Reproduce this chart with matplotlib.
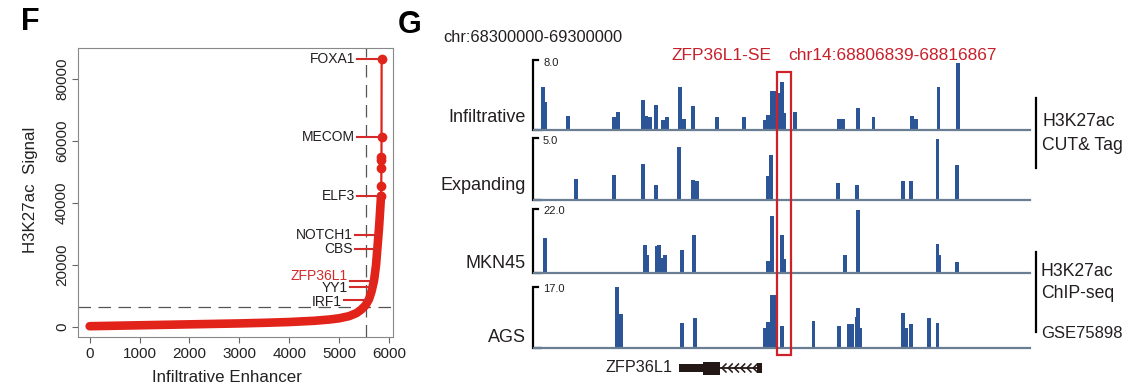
import numpy as np
import matplotlib
matplotlib.use("Agg")
import matplotlib.pyplot as plt
from matplotlib.patches import Rectangle

plt.rcParams['font.family'] = ['Liberation Sans', 'DejaVu Sans']

# ---------------- data: panel F (ranked enhancer signal) ----------------
curve_rank = [0, 500, 1000, 1500, 2000, 2500, 3000, 3500, 4000, 4500, 4800, 5000,
              5200, 5350, 5450, 5530, 5600, 5650, 5700, 5740, 5770, 5800, 5820, 5840]
curve_signal = [250, 400, 550, 700, 850, 1000, 1150, 1350, 1600, 2000, 2400, 2800,
                3500, 4500, 5700, 7000, 9000, 11500, 15000, 20000, 26000, 32000, 37000, 42300]
top_rank = [5840, 5845, 5847, 5848, 5849, 5850, 5852]
top_signal = [42300, 45500, 51300, 53900, 54800, 61300, 86450]
label_genes = ['FOXA1', 'MECOM', 'ELF3', 'NOTCH1', 'CBS', 'ZFP36L1', 'YY1', 'IRF1']
label_signal = [86450, 61300, 42300, 29700, 25200, 14900, 13000, 8700]
cutoff_rank = 5540
cutoff_signal = 6450
x_ticks = [0, 1000, 2000, 3000, 4000, 5000, 6000]
y_ticks = [0, 20000, 40000, 60000, 80000]

# ---------------- data: panel G (tracks; position in kb from 68,300,000) ----------------
track_names = ['Infiltrative', 'Expanding', 'MKN45', 'AGS']
track_max = [8.0, 5.0, 22.0, 17.0]
infil_pos = [18, 22, 69, 161, 169, 220, 226, 234, 246, 260, 268, 294, 302, 321, 369, 423,
             466, 472, 480, 486, 492, 500, 504, 526, 615, 623, 653, 685, 762, 770, 816, 855]
infil_val = [4.95, 3.2, 1.6, 1.5, 2.1, 3.4, 1.6, 1.5, 2.9, 1.15, 1.5, 4.95, 1.3, 2.7, 1.5, 1.5,
             1.15, 1.7, 4.4, 4.4, 4.2, 5.5, 1.9, 2.0, 1.2, 1.2, 2.55, 1.5, 1.55, 1.3, 4.95, 7.6]
expand_pos = [85, 161, 220, 246, 292, 321, 329, 472, 478, 613, 651, 744, 760, 814, 853]
expand_val = [1.67, 2.0, 2.9, 1.2, 4.3, 1.6, 1.55, 1.9, 3.6, 1.35, 1.2, 1.56, 1.56, 4.9, 2.8]
mkn45_pos = [22, 224, 228, 248, 252, 258, 264, 298, 323, 472, 480, 500, 504, 627, 653, 814, 818, 853]
mkn45_val = [12.0, 9.7, 6.3, 9.2, 9.7, 5.2, 6.3, 7.8, 13.2, 4.2, 19.7, 13.2, 4.9, 6.3, 21.5, 10.0, 6.3, 3.8]
ags_pos = [167, 175, 298, 325, 466, 472, 480, 484, 500, 564, 615, 635, 641, 651, 653, 657,
           744, 750, 760, 796, 814]
ags_val = [17.0, 9.6, 6.9, 8.3, 5.7, 7.3, 14.9, 14.8, 6.2, 7.5, 6.0, 6.7, 6.7, 8.7, 11.2, 5.5,
           9.7, 5.7, 6.6, 8.5, 6.9]
track_pos = [infil_pos, expand_pos, mkn45_pos, ags_pos]
track_val = [infil_val, expand_val, mkn45_val, ags_val]
se_region = (490, 519)          # highlighted super-enhancer (kb)
gene_thin = (292, 341)          # ZFP36L1 exon blocks (kb)
gene_thick = (341, 375)
gene_intron = (375, 450)
gene_end = (450, 460)

# ---------------- figure ----------------
W, H = 1135, 390
fig = plt.figure(figsize=(W / 100, H / 100), dpi=100)


def axpx(x0, y0, x1, y1):
    a = fig.add_axes([x0 / W, 1 - y1 / H, (x1 - x0) / W, (y1 - y0) / H])
    a.patch.set_alpha(0)
    return a


RED = '#E2231A'
LRED = '#D42A2A'
TXT = '#231F20'

# ---- pixel overlay for annotation text ----
pax = axpx(0, 0, W, H)
pax.set_xlim(0, W)
pax.set_ylim(H, 0)
pax.axis('off')

# ---------------- Panel F ----------------
ax = axpx(78, 48, 393, 337)
ax.set_xlim(-234, 6080)
ax.set_ylim(-3230, 90000)
ax.plot(curve_rank, curve_signal, color=RED, lw=6.2, solid_capstyle='round', zorder=3)
ax.plot(top_rank, top_signal, '-o', color=RED, lw=1.6, ms=6, zorder=3)
ax.axvline(cutoff_rank, color='#555555', lw=0.9, dashes=(10, 6), zorder=2)
ax.axhline(cutoff_signal, color='#555555', lw=0.9, dashes=(10, 6), zorder=2)

all_rank = np.array(curve_rank + top_rank[1:])
all_sig = np.array(curve_signal + top_signal[1:])
text_right = [5320, 5320, 5320, 5280, 5280, 5180, 5180, 5050]
text_shift = [0, 0, 0, 0, 0, 1700, -350, -700]
for g, v, tx, dy in zip(label_genes, label_signal, text_right, text_shift):
    xe = np.interp(v, all_sig, all_rank)
    ax.plot([tx + 40, xe], [v, v], color=LRED, lw=1.5, zorder=4)
    ax.text(tx, v + dy, g, ha='right', va='center', fontsize=10,
            color=(LRED if g == 'ZFP36L1' else TXT), zorder=5)

ax.set_xticks(x_ticks)
ax.set_yticks(y_ticks)
ax.tick_params(direction='out', length=4, width=0.8, colors='#666666',
               labelcolor='#222222', labelsize=11, pad=3)
ax.tick_params(axis='y', labelrotation=90, pad=2.5)
for lab in ax.get_yticklabels():
    lab.set_va('center')
for s in ax.spines.values():
    s.set_color('#888888')
    s.set_linewidth(0.8)

pax.text(30, 190, 'H3K27ac  Signal', rotation=90, ha='center', va='center',
         fontsize=12.2, color='#222222')
pax.text(227, 378, 'Infiltrative Enhancer', ha='center', va='center',
         fontsize=12.2, color='#222222')
pax.text(30, 22, 'F', ha='center', va='center', fontsize=22, fontweight='bold', color='black')

# ---------------- Panel G ----------------
pax.text(410, 25, 'G', ha='center', va='center', fontsize=22, fontweight='bold', color='black')
pax.text(443, 37, 'chr:68300000-69300000', ha='left', va='center', fontsize=11.8, color=TXT)
pax.text(672, 55, 'ZFP36L1-SE', ha='left', va='center', fontsize=12.5, color='#C8202B')
pax.text(788, 55, 'chr14:68806839-68816867', ha='left', va='center', fontsize=12.5, color='#C8202B')

BLUE = '#2C5597'
BASE = '#6A7E93'
tops = [60, 138, 209, 287]
bases = [130, 200, 273, 348]
label_y = [118, 185, 263, 337]
for name, mx, pos, val, t, b, ly in zip(track_names, track_max, track_pos, track_val,
                                        tops, bases, label_y):
    tax = axpx(534, t, 1030, b)
    tax.set_xlim(0, 1000)
    tax.set_ylim(0, mx)
    tax.bar(pos, val, width=7, color=BLUE, align='center', linewidth=0)
    tax.axhline(0, color=BASE, lw=1.6, clip_on=False)
    tax.axis('off')
    # scale bracket
    pax.plot([538, 533, 533, 541], [t, t, b, b], color='black', lw=1.6, solid_joinstyle='miter')
    pax.text(543, t + 2.5, f'{mx:.1f}', ha='left', va='center', fontsize=8, color=TXT)
    pax.text(526, ly, name, ha='right', va='center', fontsize=13, color=TXT)

# right side annotations
pax.plot([1036, 1036], [98, 168], color='black', lw=1.6)
pax.text(1042, 122, 'H3K27ac', ha='left', va='center', fontsize=12.7, color=TXT)
pax.text(1042, 145, 'CUT& Tag', ha='left', va='center', fontsize=12.7, color=TXT)
pax.plot([1036, 1036], [252, 332], color='black', lw=1.6)
pax.text(1041, 271, 'H3K27ac', ha='left', va='center', fontsize=12.7, color=TXT)
pax.text(1041, 293, 'ChIP-seq', ha='left', va='center', fontsize=12.7, color=TXT)
pax.text(1041, 333, 'GSE75898', ha='left', va='center', fontsize=12, color=TXT)

# kb overlay for SE box and gene model
kax = axpx(534, 0, 1030, H)
kax.set_xlim(0, 1000)
kax.set_ylim(H, 0)
kax.axis('off')
kax.add_patch(Rectangle((se_region[0], 72), se_region[1] - se_region[0], 283,
                        fill=False, ec='#D0202A', lw=1.6, zorder=6))
GC = '#231815'
gy = 368
kax.add_patch(Rectangle((gene_thin[0], gy - 4), gene_thin[1] - gene_thin[0], 8, color=GC, lw=0))
kax.add_patch(Rectangle((gene_thick[0], gy - 6.5), gene_thick[1] - gene_thick[0], 13, color=GC, lw=0))
kax.add_patch(Rectangle((gene_end[0], gy - 5), gene_end[1] - gene_end[0], 10, color=GC, lw=0))
kax.plot([gene_intron[0], gene_intron[1]], [gy, gy], color=GC, lw=1.3)
for cx in np.linspace(gene_intron[0] + 4, gene_intron[1] - 8, 6):
    kax.plot([cx + 8, cx, cx + 8], [gy - 4, gy, gy + 4], color=GC, lw=1.1)
pax.text(673, gy, 'ZFP36L1', ha='right', va='center', fontsize=11.7, color=TXT)

fig.savefig('out.png', dpi=100)
